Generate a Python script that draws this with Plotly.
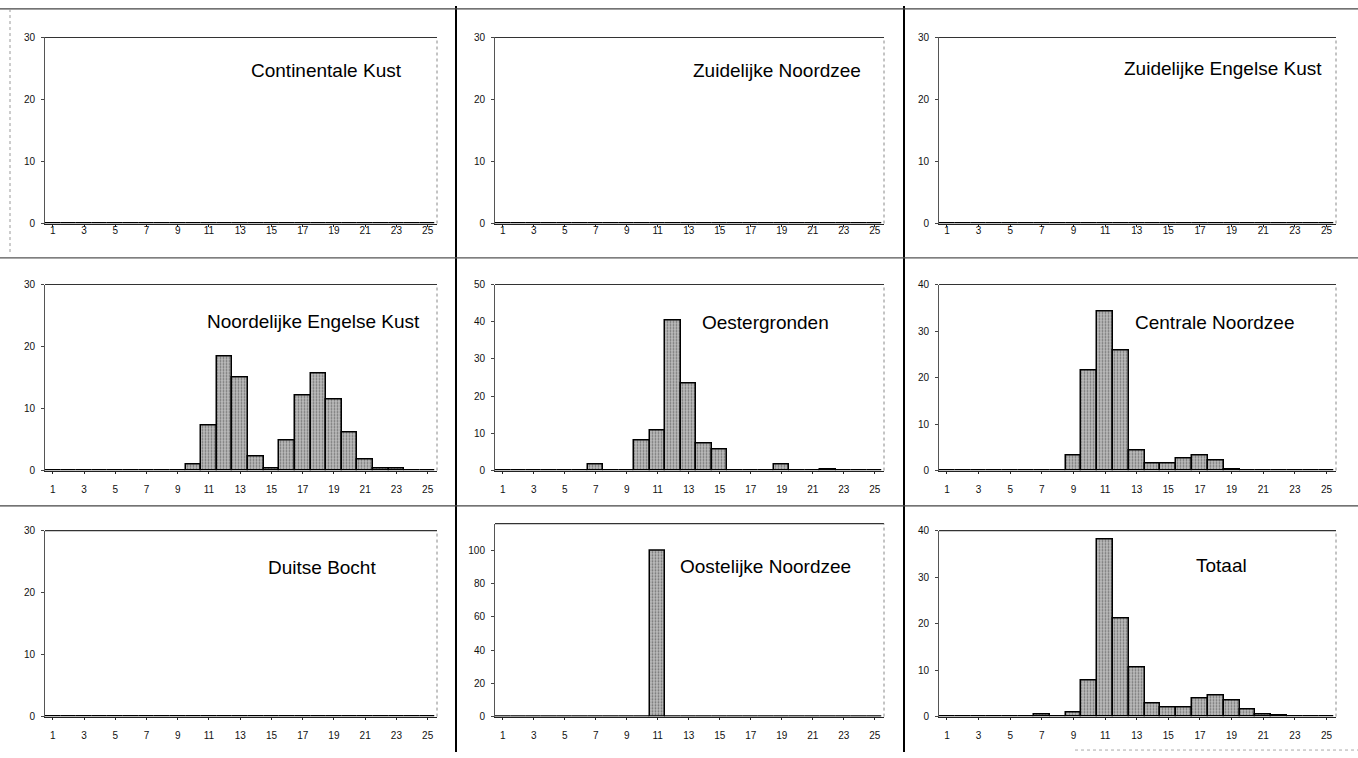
import plotly.graph_objects as go

# Categories on the x axis (1..25) and the labelled ticks
categories = list(range(1, 26))
tick_values = [1, 3, 5, 7, 9, 11, 13, 15, 17, 19, 21, 23, 25]
tick_labels = ["1", "3", "5", "7", "9", "11", "13", "15", "17", "19", "21", "23", "25"]

# Percentage per category for each area (index 0 = category 1)
continentale_kust = [0, 0, 0, 0, 0, 0, 0, 0, 0, 0, 0, 0, 0, 0, 0, 0, 0, 0, 0, 0, 0, 0, 0, 0, 0]
zuidelijke_noordzee = [0, 0, 0, 0, 0, 0, 0, 0, 0, 0, 0, 0, 0, 0, 0, 0, 0, 0, 0, 0, 0, 0, 0, 0, 0]
zuidelijke_engelse_kust = [0, 0, 0, 0, 0, 0, 0, 0, 0, 0, 0, 0, 0, 0, 0, 0, 0, 0, 0, 0, 0, 0, 0, 0, 0]
noordelijke_engelse_kust = [0, 0, 0, 0, 0, 0, 0, 0, 0, 1.0, 7.3, 18.4, 15.0, 2.3, 0.3,
                            4.8, 12.1, 15.6, 11.5, 6.2, 1.7, 0.4, 0.4, 0, 0]
oestergronden = [0, 0, 0, 0, 0, 0, 1.5, 0, 0, 8.0, 10.7, 40.3, 23.3, 7.3, 5.7,
                 0, 0, 0, 1.6, 0, 0, 0.2, 0, 0, 0]
centrale_noordzee = [0, 0, 0, 0, 0, 0, 0.1, 0, 3.2, 21.5, 34.2, 25.9, 4.2, 1.6, 1.6,
                     2.5, 3.2, 2.1, 0.3, 0, 0.1, 0.1, 0, 0, 0]
duitse_bocht = [0, 0, 0, 0, 0, 0, 0, 0, 0, 0, 0, 0, 0, 0, 0, 0, 0, 0, 0, 0, 0, 0, 0, 0, 0]
oostelijke_noordzee = [0, 0, 0, 0, 0, 0, 0, 0, 0, 0, 100, 0, 0, 0, 0, 0, 0, 0, 0, 0, 0, 0, 0, 0, 0]
totaal = [0, 0, 0, 0, 0.1, 0.1, 0.4, 0, 0.8, 7.8, 38.0, 21.1, 10.6, 2.8, 1.9,
          1.9, 3.8, 4.6, 3.5, 1.6, 0.5, 0.2, 0.1, 0, 0]

panel_titles = ["Continentale Kust", "Zuidelijke Noordzee", "Zuidelijke Engelse Kust",
                "Noordelijke Engelse Kust", "Oestergronden", "Centrale Noordzee",
                "Duitse Bocht", "Oostelijke Noordzee", "Totaal"]
panel_values = [continentale_kust, zuidelijke_noordzee, zuidelijke_engelse_kust,
                noordelijke_engelse_kust, oestergronden, centrale_noordzee,
                duitse_bocht, oostelijke_noordzee, totaal]
y_max = [30, 30, 30, 30, 50, 40, 30, 116, 40]
y_step = [10, 10, 10, 10, 10, 10, 10, 20, 10]
y_top_label = [30, 30, 30, 30, 50, 40, 30, 100, 40]

W, H = 1358, 758

# Pixel geometry of the panels
col_px = [(45, 437), (495, 884), (939, 1336)]
row_px = [(32, 221), (283, 472), (533, 722)]
title_pos = [(0.915, 0.82), (0.945, 0.82), (0.97, 0.835),
             (0.962, 0.80), (0.865, 0.795), (0.90, 0.795),
             (0.85, 0.80), (0.92, 0.78), (0.78, 0.81)]

fig = go.Figure()
layout = dict(
    width=W, height=H,
    margin=dict(l=0, r=0, t=0, b=0),
    paper_bgcolor="white", plot_bgcolor="white",
    showlegend=False, bargap=0,
    font=dict(family="Liberation Sans, Arial, sans-serif", color="black"),
)
annotations = []
shapes = []

for i in range(9):
    r, c = divmod(i, 3)
    n = i + 1
    xa = "x" if n == 1 else f"x{n}"
    ya = "y" if n == 1 else f"y{n}"
    x0p, x1p = col_px[c]
    y0p, y1p = row_px[r]
    if i == 7:
        y0p = 526
    fig.add_trace(go.Bar(
        x=categories, y=panel_values[i], xaxis=xa, yaxis=ya, width=1.0,
        marker=dict(
            color="#bcbcbc",
            line=dict(color="black", width=1.5),
            pattern=dict(shape=".", fgcolor="#262626", bgcolor="#bcbcbc",
                         size=3, solidity=0.3),
        ),
        hoverinfo="x+y",
    ))
    standoff = -5 if r == 0 else 7
    layout["xaxis" if n == 1 else f"xaxis{n}"] = dict(
        domain=[x0p / W, x1p / W], anchor=ya, range=[0.5, 25.6],
        tickmode="array", tickvals=tick_values, ticktext=tick_labels,
        ticks="outside", ticklen=2, tickcolor="#222",
        showline=True, linecolor="#222", linewidth=1.2,
        showgrid=False, zeroline=False, fixedrange=True,
        tickfont=dict(size=10, color="#111"), ticklabelstandoff=standoff,
    )
    layout["yaxis" if n == 1 else f"yaxis{n}"] = dict(
        domain=[1 - y1p / H, 1 - y0p / H], anchor=xa, range=[0, y_max[i]],
        tickmode="array",
        tickvals=list(range(0, y_top_label[i] + 1, y_step[i])),
        ticks="outside", ticklen=3, tickcolor="#444",
        showline=True, linecolor="#555", linewidth=1,
        showgrid=False, zeroline=False, fixedrange=True,
        tickfont=dict(size=10, color="#111"), ticklabelstandoff=4,
    )
    # top edge and dotted right edge of each plot box
    shapes.append(dict(type="line", xref=f"{xa} domain", yref=f"{ya} domain",
                       x0=0, x1=1, y0=1, y1=1, line=dict(color="#333", width=1.2)))
    shapes.append(dict(type="line", xref=f"{xa} domain", yref=f"{ya} domain",
                       x0=1, x1=1, y0=0, y1=1, line=dict(color="#888", width=1, dash="dot")))
    tx, ty = title_pos[i]
    annotations.append(dict(
        text=panel_titles[i], xref=f"{xa} domain", yref=f"{ya} domain",
        x=tx, y=ty, xanchor="right", yanchor="middle", showarrow=False,
        font=dict(size=19, color="black", family="Liberation Sans, Arial, sans-serif"),
    ))

# cell separators of the 3x3 grid
for xv in (456, 904):
    shapes.append(dict(type="line", xref="paper", yref="paper",
                       x0=xv / W, x1=xv / W, y0=0, y1=1,
                       line=dict(color="black", width=2)))
for yv, col in ((3, "#444"), (256, "#555"), (508, "#444")):
    shapes.append(dict(type="line", xref="paper", yref="paper",
                       x0=0, x1=1, y0=1 - yv / H, y1=1 - yv / H,
                       line=dict(color=col, width=1.3)))
shapes.append(dict(type="line", xref="paper", yref="paper",
                   x0=10 / W, x1=10 / W, y0=1 - 250 / H, y1=1,
                   line=dict(color="#999", width=1, dash="dot")))
shapes.append(dict(type="line", xref="paper", yref="paper",
                   x0=1075 / W, x1=1, y0=1 - 756 / H, y1=1 - 756 / H,
                   line=dict(color="#aaa", width=1, dash="dot")))

layout["annotations"] = annotations
layout["shapes"] = shapes
fig.update_layout(**layout)
fig.write_html("out.html")
